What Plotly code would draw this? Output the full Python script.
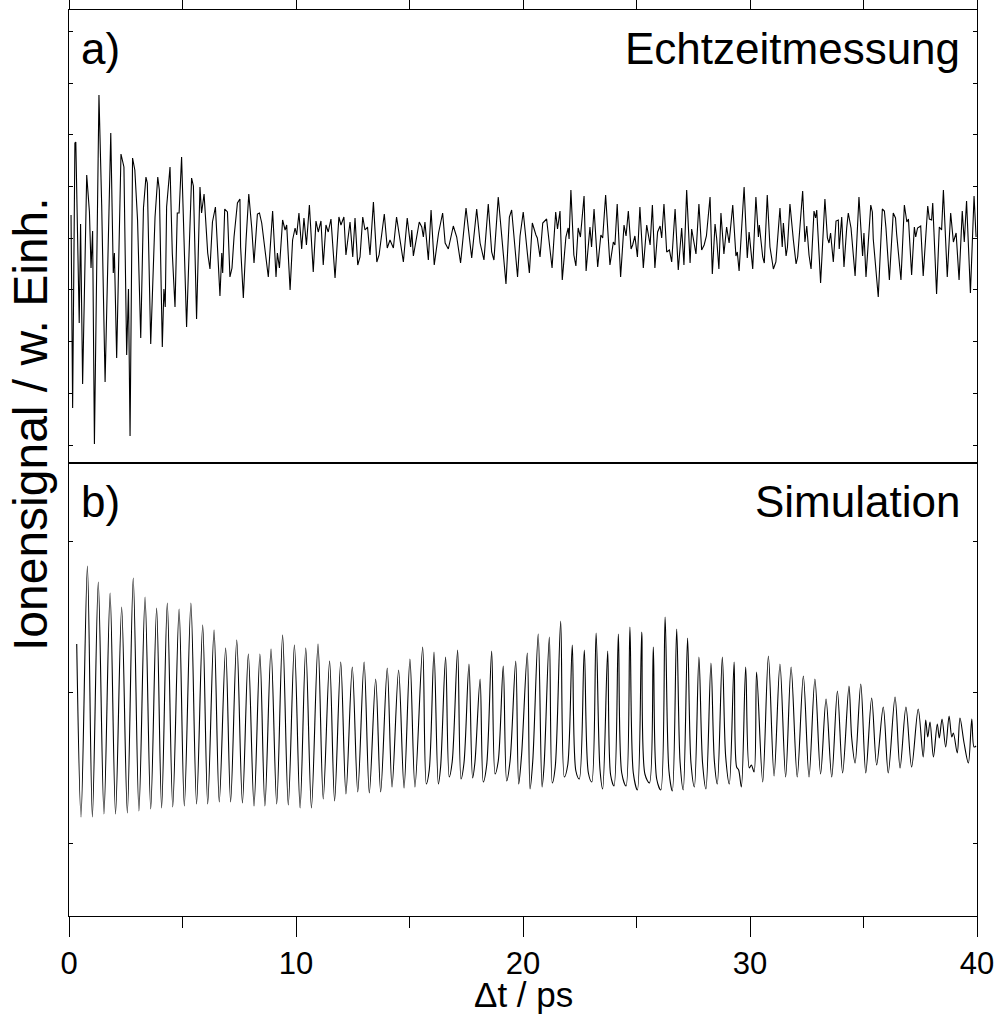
import plotly.graph_objects as go

# ---------------- data (arbitrary units) ----------------
# a) Echtzeitmessung (measured real-time signal)
t_a = [0.09, 0.16, 0.26, 0.30, 0.45, 0.51, 0.60, 0.78, 0.90, 0.97, 1.04, 1.12, 1.32, 1.44, 1.59, 1.84,
       1.95, 2.00, 2.10, 2.29, 2.42, 2.54, 2.62, 2.69, 2.80, 2.90, 3.02, 3.16, 3.28, 3.39, 3.45, 3.60,
       3.79, 3.91, 3.98, 4.11, 4.18, 4.24, 4.30, 4.45, 4.55, 4.67, 4.77, 4.85, 4.96, 5.07, 5.18, 5.40,
       5.48, 5.62, 5.77, 5.84, 5.95, 6.11, 6.21, 6.32, 6.45, 6.65, 6.73, 6.77, 6.86, 6.98, 7.09, 7.18,
       7.27, 7.42, 7.53, 7.56, 7.68, 7.80, 7.92, 8.05, 8.15, 8.30, 8.39, 8.49, 8.63, 8.78, 8.97, 9.12,
       9.18, 9.27, 9.41, 9.52, 9.59, 9.74,
       9.85, 9.96, 10.03, 10.13, 10.25, 10.35, 10.46, 10.59, 10.76, 10.88, 10.98, 11.10, 11.20, 11.32,
       11.42, 11.54, 11.72, 11.89, 11.98, 12.11, 12.20, 12.38, 12.50, 12.60, 12.72, 12.82, 12.94, 13.04,
       13.15, 13.26, 13.41, 13.56, 13.66, 13.89, 14.02, 14.14, 14.29, 14.43, 14.73, 14.90, 15.05, 15.10,
       15.17, 15.32, 15.43, 15.54, 15.61, 15.68, 15.83, 15.95, 16.09, 16.28, 16.46, 16.57, 16.71, 16.93,
       17.08, 17.25, 17.49, 17.74, 17.96, 18.11, 18.28, 18.47, 18.62, 18.72, 18.91, 19.25, 19.40, 19.50,
       19.76,
       19.87, 20.01, 20.28, 20.41, 20.57, 20.63, 20.75, 20.87, 21.04, 21.28, 21.44, 21.52, 21.63, 21.73,
       21.89, 21.99, 22.03, 22.11, 22.24, 22.33, 22.43, 22.53, 22.69, 22.78, 22.95, 23.02, 23.13, 23.29,
       23.43, 23.51, 23.64, 23.83, 23.98, 24.05, 24.15, 24.30, 24.45, 24.54, 24.64, 24.76, 24.83, 24.93,
       25.04, 25.15, 25.30, 25.45, 25.60, 25.70, 25.81, 25.93, 26.04, 26.11, 26.21, 26.33, 26.45, 26.55,
       26.70, 26.84, 26.99, 27.09, 27.21, 27.36, 27.43, 27.54, 27.62, 27.75, 27.87, 27.98, 28.08, 28.24,
       28.34, 28.46, 28.53, 28.63, 28.72, 28.85, 28.97, 29.08, 29.24, 29.38, 29.44, 29.52, 29.74, 29.88,
       29.96, 30.12,
       30.26, 30.37, 30.41, 30.56, 30.63, 30.76, 30.88, 31.03, 31.14, 31.32, 31.42, 31.47, 31.59, 31.65,
       31.76, 31.91, 32.03, 32.10, 32.32, 32.42, 32.50, 32.60, 32.69, 32.82, 32.89, 32.94, 33.11, 33.30,
       33.41, 33.48, 33.55, 33.67, 33.79, 33.89, 33.93, 34.04, 34.14, 34.26, 34.33, 34.45, 34.63, 34.80,
       34.96, 35.02, 35.11, 35.32, 35.39, 35.43, 35.65, 35.83, 35.92, 35.99, 36.14, 36.31, 36.41, 36.46,
       36.65, 36.80, 36.91, 36.98, 37.12, 37.24, 37.30, 37.38, 37.52, 37.63, 37.83, 37.90, 38.00, 38.05,
       38.22, 38.34, 38.44, 38.52, 38.69, 38.84, 38.96, 39.08, 39.21, 39.35, 39.44, 39.54, 39.71, 39.87,
       39.96]
s_a = [248, 55, 320, 321, 140, 239, 79, 288, 251, 195, 232, 19, 368, 258, 81, 330,
       190, 210, 105, 309, 296, 108, 174, 27, 305, 293, 243, 125, 255, 286, 280, 119,
       246, 286, 273, 116, 174, 156, 256, 296, 210, 156, 250, 250, 306, 210, 136, 285,
       277, 144, 276, 250, 269, 210, 194, 241, 256, 167, 210, 190, 254, 251, 186, 195,
       226, 260, 264, 216, 165, 223, 269, 235, 200, 249, 250, 240, 212, 186, 252, 186,
       210, 195, 243, 233, 238, 173,
       223, 235, 228, 250, 214, 245, 218, 258, 191, 242, 231, 242, 198, 238,
       231, 244, 185, 246, 238, 246, 208, 241, 206, 245, 198, 206, 246, 233,
       236, 208, 261, 201, 208, 249, 215, 223, 215, 246, 201, 245, 216, 233,
       207, 226, 241, 236, 226, 241, 203, 253, 198, 230, 250, 220, 214, 237,
       226, 200, 255, 205, 254, 220, 203, 259, 211, 203, 266, 179, 246, 253,
       186,
       227, 251, 190, 240, 228, 225, 206, 240, 244, 195, 251, 234, 252, 183,
       226, 235, 224, 273, 208, 197, 235, 226, 267, 192, 236, 216, 254, 196,
       228, 225, 268, 198, 221, 218, 259, 186, 238, 227, 252, 214, 218, 227,
       206, 256, 195, 238, 218, 258, 195, 231, 237, 225, 259, 211, 213, 201,
       254, 193, 235, 198, 273, 200, 234, 220, 209, 259, 213, 218, 227, 266,
       189, 239, 225, 194, 250, 209, 236, 220, 258, 207, 211, 192, 276, 205,
       231, 194,
       266, 226, 238, 206, 200, 268, 216, 194, 201, 255, 216, 240, 207, 216,
       259, 223, 199, 206, 272, 221, 237, 208, 194, 252, 245, 253, 180, 264,
       225, 220, 230, 201, 242, 243, 214, 246, 196, 235, 250, 235, 187, 266,
       207, 230, 186, 258, 251, 224, 166, 254, 252, 235, 183, 250, 245, 229,
       183, 258, 241, 244, 188, 236, 226, 235, 237, 187, 257, 244, 243, 260,
       169, 236, 233, 273, 186, 250, 221, 230, 183, 252, 221, 262, 170, 267,
       226]

# b) Simulation
t_b = [0.34, 0.53, 0.81, 1.03, 1.29, 1.54, 1.81, 2.05, 2.32, 2.57, 2.83, 3.08, 3.35, 3.60, 3.86, 4.08,
       4.33, 4.57, 4.85, 5.08, 5.37, 5.62, 5.89, 6.11, 6.39, 6.62, 6.90, 7.12, 7.39, 7.64, 7.90, 8.15,
       8.41, 8.63, 8.90, 9.15, 9.41, 9.66, 9.93,
       10.18, 10.43, 10.68, 10.97, 11.20, 11.48, 11.70, 11.97, 12.20, 12.48, 12.72, 13.00, 13.23, 13.51,
       13.73, 14.02, 14.23, 14.52, 14.76, 15.02, 15.24, 15.58, 15.74, 15.87, 16.08, 16.27, 16.37, 16.59,
       16.75, 16.88, 17.12, 17.27, 17.40, 17.62, 17.78, 17.88, 18.11, 18.25, 18.40, 18.62, 18.77, 18.91,
       19.13, 19.28, 19.43, 19.68, 19.81, 19.94, 20.19,
       20.31, 20.43, 20.67, 20.84, 20.93, 21.16, 21.29, 21.42, 21.66, 21.82, 21.97, 22.17, 22.33, 22.48,
       22.70, 22.88, 23.03, 23.22, 23.39, 23.51, 23.73, 23.86, 24.01, 24.20, 24.35, 24.54, 24.71, 24.86,
       25.04, 25.23, 25.37, 25.57, 25.74, 25.89, 26.07, 26.26, 26.43, 26.58, 26.77, 26.92, 27.06, 27.25,
       27.40, 27.55, 27.75, 27.91, 28.06, 28.28, 28.43, 28.56, 28.78, 28.93, 29.09, 29.30, 29.41, 29.50,
       29.62, 29.81, 29.97, 30.06, 30.18,
       30.29, 30.56, 30.81, 31.06, 31.32, 31.57, 31.81, 32.08, 32.35, 32.60, 32.86, 33.11, 33.35, 33.60,
       33.85, 34.08, 34.36, 34.48, 34.63, 34.88, 35.10, 35.36, 35.58, 35.87, 36.09, 36.39, 36.61, 36.87,
       37.12, 37.41, 37.63, 37.74, 37.83, 37.93, 38.08, 38.25, 38.34, 38.46, 38.62, 38.77, 38.89, 38.96,
       39.13, 39.25, 39.43, 39.62, 39.77, 39.87, 39.96]
s_b = [272, 99, 350, 99, 334, 102, 323, 102, 309, 103, 338, 105, 319, 107, 308, 108,
       313, 109, 307, 110, 313, 112, 291, 112, 286, 114, 268, 114, 276, 113, 262, 110,
       262, 110, 267, 112, 281, 111, 271,
       108, 268, 108, 272, 117, 255, 115, 254, 122, 249, 124, 254, 123, 237,
       124, 248, 129, 246, 128, 257, 129, 269, 132, 146, 264, 132, 149, 259,
       139, 154, 266, 137, 153, 252, 138, 153, 237, 134, 151, 265, 142, 155,
       250, 135, 155, 255, 132, 162, 263,
       127, 155, 282, 129, 151, 279, 133, 149, 295, 139, 151, 271, 145, 137,
       266, 143, 134, 283, 147, 127, 265, 141, 130, 282, 143, 130, 289, 143,
       126, 284, 142, 133, 269, 137, 126, 299, 145, 125, 287, 154, 126, 278,
       153, 129, 259, 153, 127, 253, 155, 132, 259, 159, 132, 254, 149, 146,
       129, 249, 148, 151, 144,
       244, 134, 260, 140, 252, 139, 249, 139, 240, 139, 237, 142, 217, 139,
       225, 143, 230, 178, 153, 232, 143, 218, 151, 209, 143, 219, 148, 209,
       149, 207, 159, 196, 179, 194, 159, 192, 178, 197, 169, 200, 179, 183,
       163, 198, 173, 153, 197, 169, 170]

x_ticks = [0, 10, 20, 30, 40]
x_tick_labels = ["0", "10", "20", "30", "40"]

FONT = "Liberation Sans, Arial, Helvetica, sans-serif"

fig = go.Figure()
fig.add_trace(go.Scatter(x=t_a, y=s_a, mode="lines", xaxis="x2", yaxis="y2",
                         line=dict(color="black", width=1.1), showlegend=False))
fig.add_trace(go.Scatter(x=t_b, y=s_b, mode="lines", xaxis="x", yaxis="y",
                         line=dict(color="black", width=1.1, shape="spline", smoothing=0.9),
                         showlegend=False))

axis_common = dict(showgrid=False, zeroline=False, showline=True, linecolor="black",
                   linewidth=1.2, automargin=False)

fig.update_layout(
    width=999, height=1014,
    margin=dict(l=69, r=22, t=10, b=98, autoexpand=False),
    paper_bgcolor="white", plot_bgcolor="white",
    font=dict(family=FONT, color="black", size=31),
    xaxis=dict(domain=[0, 1], anchor="y", range=[0, 40], tickmode="array",
               tickvals=x_ticks, ticktext=x_tick_labels, ticks="outside", ticklen=20,
               tickwidth=1, tickcolor="black", mirror=True,
               minor=dict(dtick=5, tick0=0, ticks="outside", ticklen=11, tickcolor="black", tickwidth=1),
               tickfont=dict(size=31, family=FONT), **axis_common),
    xaxis2=dict(domain=[0, 1], anchor="y2", matches="x", range=[0, 40], side="top",
                tickvals=x_ticks, ticks="outside", ticklen=11, tickwidth=1, tickcolor="black",
                showticklabels=False, mirror=True,
                minor=dict(dtick=5, tick0=0, ticks="outside", ticklen=11, tickcolor="black", tickwidth=1),
                **axis_common),
    yaxis=dict(domain=[0, 0.5], anchor="x", range=[0, 453], tick0=73, dtick=151,
               ticks="inside", ticklen=4, tickcolor="black", showticklabels=False, mirror="ticks",
               **axis_common),
    yaxis2=dict(domain=[0.5, 1], anchor="x2", range=[0, 453], tick0=18, dtick=51.7,
                ticks="inside", ticklen=4, tickcolor="black", showticklabels=False, mirror="ticks",
                **axis_common),
)

LABEL_SIZE = 44
annots = [
    dict(text="a)", x=0.011, y=0.957, xanchor="left"),
    dict(text="Echtzeitmessung", x=0.983, y=0.957, xanchor="right"),
    dict(text="b)", x=0.011, y=0.457, xanchor="left"),
    dict(text="Simulation", x=0.983, y=0.457, xanchor="right"),
]
for a in annots:
    fig.add_annotation(text=a["text"], x=a["x"], y=a["y"], xref="paper", yref="paper",
                       xanchor=a["xanchor"], yanchor="middle", showarrow=False,
                       font=dict(family=FONT, size=LABEL_SIZE, color="black"))

fig.add_annotation(text="Ionensignal / w. Einh.", x=-0.043, y=0.543, xref="paper", yref="paper",
                   textangle=-90, xanchor="center", yanchor="middle", showarrow=False,
                   font=dict(family=FONT, size=48, color="black"))
fig.add_annotation(text="\u0394t / ps", x=0.501, y=-0.1100, xref="paper", yref="paper",
                   xanchor="center", yanchor="bottom", showarrow=False,
                   font=dict(family=FONT, size=35, color="black"))

fig.write_html("out.html")
